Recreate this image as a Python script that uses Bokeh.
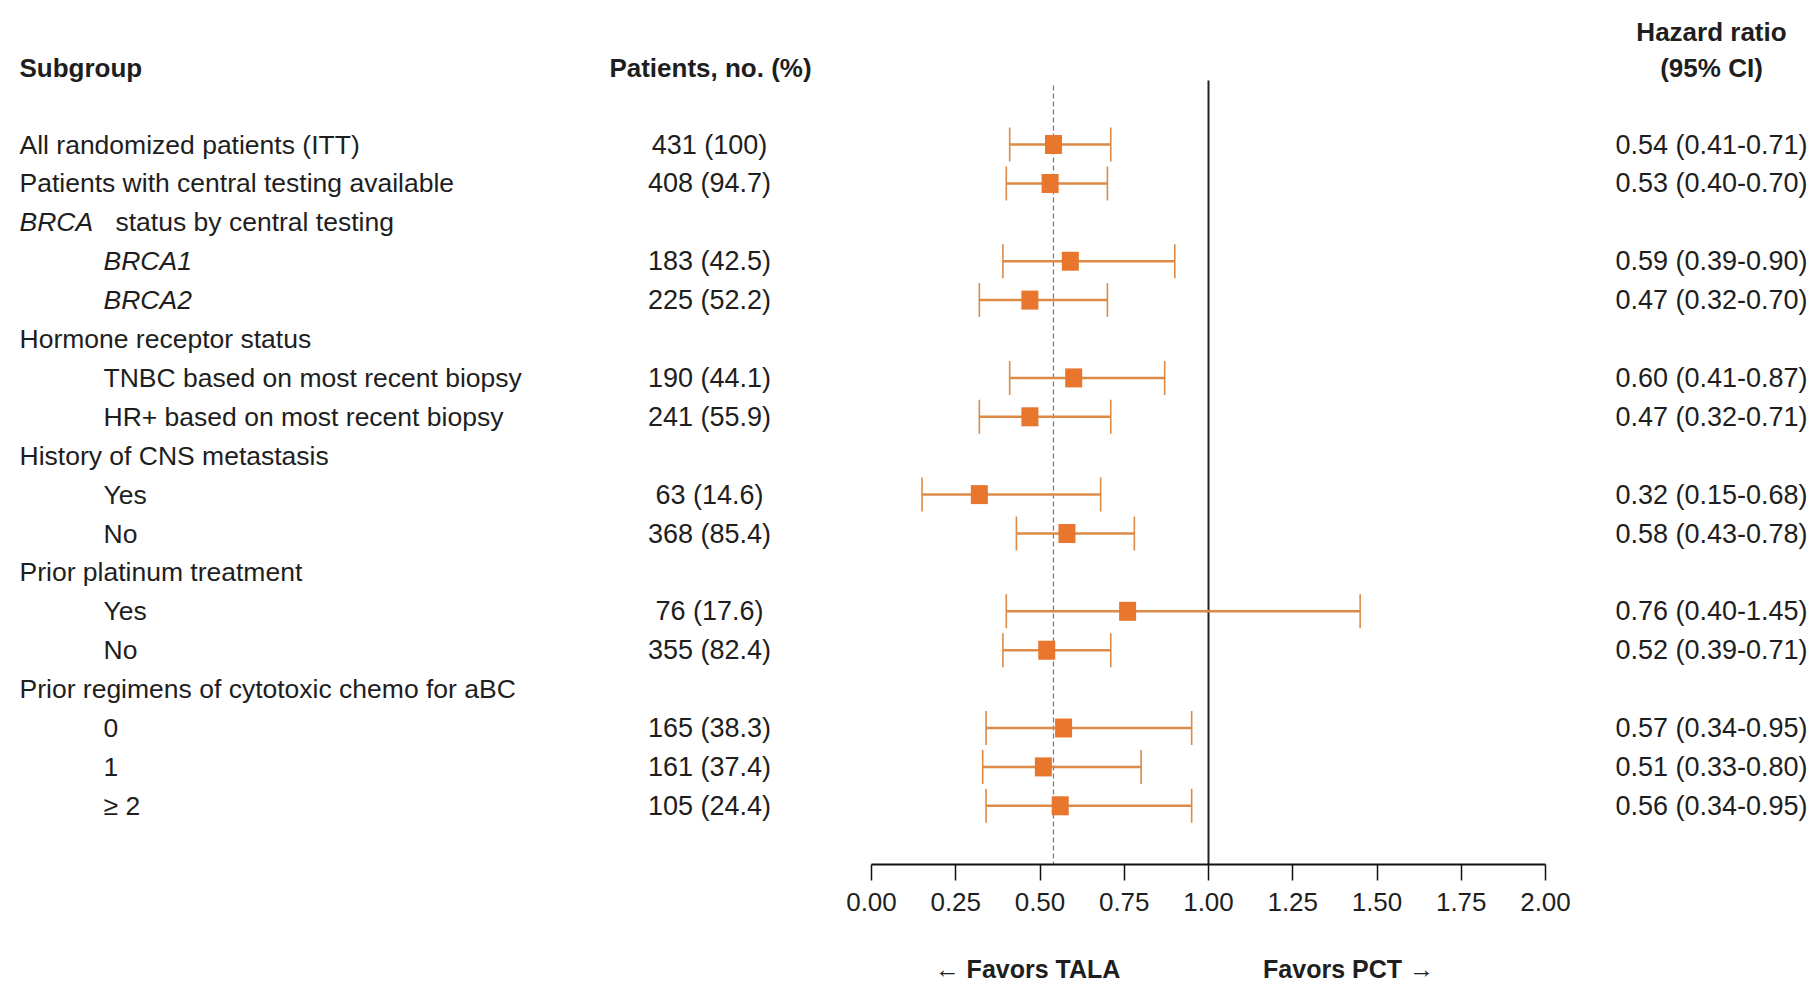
from bokeh.plotting import figure
from bokeh.models import Range1d, LinearAxis, FixedTicker, NumeralTickFormatter, ColumnDataSource
from bokeh.core.properties import value
from bokeh.embed import file_html
from bokeh.resources import INLINE

# ---------------- data ----------------
row_labels = ["All randomized patients (ITT)", "Patients with central testing available",
              "BRCA", "BRCA1", "BRCA2", "Hormone receptor status",
              "TNBC based on most recent biopsy", "HR+ based on most recent biopsy",
              "History of CNS metastasis", "Yes", "No", "Prior platinum treatment",
              "Yes", "No", "Prior regimens of cytotoxic chemo for aBC", "0", "1", "\u2265 2"]
row_indent = [0, 0, 0, 1, 1, 0, 1, 1, 0, 1, 1, 0, 1, 1, 0, 1, 1, 1]
row_italic = [0, 0, 1, 1, 1, 0, 0, 0, 0, 0, 0, 0, 0, 0, 0, 0, 0, 0]
brca_suffix = "status by central testing"

est_rows = [0, 1, 3, 4, 6, 7, 9, 10, 12, 13, 15, 16, 17]
hr = [0.54, 0.53, 0.59, 0.47, 0.60, 0.47, 0.32, 0.58, 0.76, 0.52, 0.57, 0.51, 0.56]
ci_lo = [0.41, 0.40, 0.39, 0.32, 0.41, 0.32, 0.15, 0.43, 0.40, 0.39, 0.34, 0.33, 0.34]
ci_hi = [0.71, 0.70, 0.90, 0.70, 0.87, 0.71, 0.68, 0.78, 1.45, 0.71, 0.95, 0.80, 0.95]
patients_n = [431, 408, 183, 225, 190, 241, 63, 368, 76, 355, 165, 161, 105]
patients_pct = ["100", "94.7", "42.5", "52.2", "44.1", "55.9", "14.6", "85.4", "17.6", "82.4", "38.3", "37.4", "24.4"]
x_ticks = [0.0, 0.25, 0.5, 0.75, 1.0, 1.25, 1.5, 1.75, 2.0]
favors_labels = ["\u2190 Favors TALA", "Favors PCT \u2192"]

# ---------------- layout helpers (canvas pixels -> data) ----------------
W, H = 1810, 983
AXIS_PX = 864
X0_PX, PX_PER = 871.0, 337.0
ROW0_PX, ROW_PX = 144.0, 38.9


def xd(px):
    return (px - X0_PX) / PX_PER


def yd(px):
    return (px - ROW0_PX) / ROW_PX


FONT = value("Liberation Sans")
TXT = "#1e1e1e"
ORANGE = "#E8762D"
CI_COL = "#DC8A45"

p = figure(width=W, height=H, output_backend="svg", toolbar_location=None,
           x_range=Range1d(xd(0), xd(W)), y_range=Range1d(yd(H), yd(0)),
           x_axis_location=None, y_axis_location=None, title=None,
           min_border_left=0, min_border_right=0, min_border_top=0, min_border_bottom=0)
p.outline_line_color = None
p.xgrid.visible = False
p.ygrid.visible = False

# ---------------- axis (drawn at a fixed location inside the frame) ----------------
ax = LinearAxis(bounds=(0, 2), ticker=FixedTicker(ticks=x_ticks),
                formatter=NumeralTickFormatter(format="0.00"), fixed_location=yd(AXIS_PX))
ax.axis_line_width = 2
ax.axis_line_color = "#111111"
ax.major_tick_out = 16
ax.major_tick_in = 0
ax.major_tick_line_width = 1.5
ax.major_tick_line_color = "#111111"
ax.minor_tick_line_color = None
ax.major_label_standoff = 12
ax.major_label_text_font = "Liberation Sans"
ax.major_label_text_font_size = "26px"
ax.major_label_text_color = TXT
p.add_layout(ax, "below")

# ---------------- reference lines ----------------
p.segment(x0=[1.0], y0=[yd(80)], x1=[1.0], y1=[yd(AXIS_PX)], line_color="#222222", line_width=2)
p.segment(x0=[hr[0]], y0=[yd(85)], x1=[hr[0]], y1=[yd(AXIS_PX)], line_color="#777777",
          line_width=1.2, line_dash="5 3")

# ---------------- CIs and estimates ----------------
src = ColumnDataSource(dict(row=est_rows, hr=hr, lo=ci_lo, hi=ci_hi,
                            n=[f"{a} ({b})" for a, b in zip(patients_n, patients_pct)],
                            hrtxt=[f"{h:.2f} ({l:.2f}-{u:.2f})" for h, l, u in zip(hr, ci_lo, ci_hi)]))
p.segment(x0="lo", y0="row", x1="hi", y1="row", source=src, line_color=CI_COL, line_width=2.5)
p.scatter(x="lo", y="row", source=src, marker="dash", angle=1.5708, size=34,
          line_color=CI_COL, line_width=1.6)
p.scatter(x="hi", y="row", source=src, marker="dash", angle=1.5708, size=34,
          line_color=CI_COL, line_width=1.6)
p.rect(x="hr", y="row", width=17, height=19, width_units="screen", height_units="screen",
       source=src, fill_color=ORANGE, line_color=None)

# ---------------- left label column ----------------
lab_x = [xd(19 if ind == 0 else 103) for ind in row_indent]
lab_rows = list(range(len(row_labels)))
norm = [i for i in lab_rows if not row_italic[i]]
ital = [i for i in lab_rows if row_italic[i]]
p.text(x=[lab_x[i] for i in norm], y=norm, text=[row_labels[i] for i in norm],
       text_font=FONT, text_font_size="26.5px", text_color=TXT,
       text_baseline="middle", text_align="left")
p.text(x=[lab_x[i] for i in ital], y=ital, text=[row_labels[i] for i in ital],
       text_font=FONT, text_font_size="26.5px", text_font_style="italic", text_color=TXT,
       text_baseline="middle", text_align="left")
p.text(x=[xd(115)], y=[2], text=[brca_suffix], text_font=FONT, text_font_size="26.5px",
       text_color=TXT, text_baseline="middle", text_align="left")

# ---------------- numeric columns ----------------
p.text(x=xd(709), y="row", text="n", source=src, text_font=FONT, text_font_size="27px",
       text_color=TXT, text_baseline="middle", text_align="center")
p.text(x=xd(1807), y="row", text="hrtxt", source=src, text_font=FONT, text_font_size="27px",
       text_color=TXT, text_baseline="middle", text_align="right")

# ---------------- headers ----------------
p.text(x=[xd(19)], y=[yd(67)], text=["Subgroup"], text_font=FONT, text_font_size="26px",
       text_font_style="bold", text_color=TXT, text_baseline="middle", text_align="left")
p.text(x=[xd(710)], y=[yd(67)], text=["Patients, no. (%)"], text_font=FONT, text_font_size="26px",
       text_font_style="bold", text_color=TXT, text_baseline="middle", text_align="center")
p.text(x=[xd(1711)] * 2, y=[yd(31), yd(67)], text=["Hazard ratio", "(95% CI)"], text_font=FONT,
       text_font_size="26px", text_font_style="bold", text_color=TXT, text_baseline="middle",
       text_align="center")

# ---------------- "Favors" texts under the axis ----------------
p.text(x=[xd(1027), xd(1348)], y=[yd(968)] * 2, text=favors_labels, text_font=FONT,
       text_font_size="25px", text_font_style="bold", text_color=TXT,
       text_align="center", text_baseline="middle")

open("out.html", "w").write(file_html(p, INLINE))
